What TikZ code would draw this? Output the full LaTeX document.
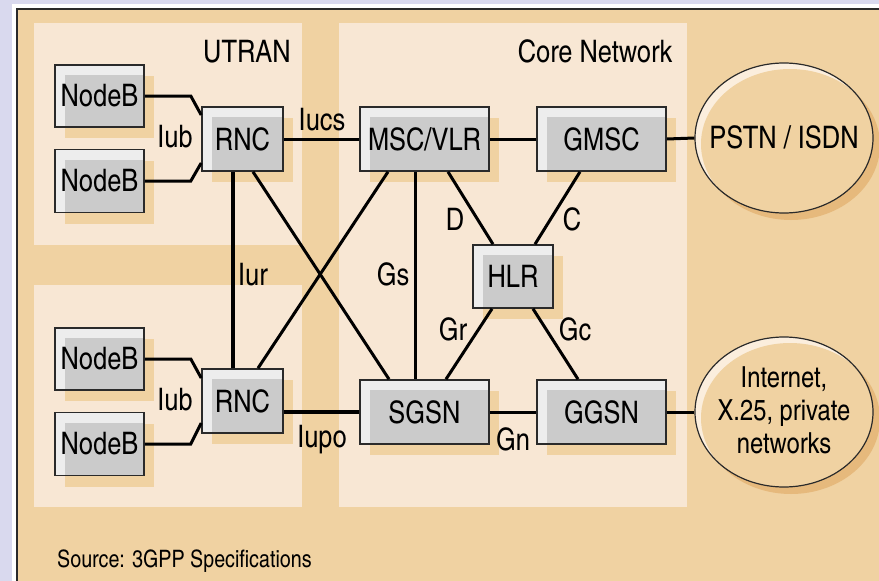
\documentclass[tikz,border=0pt]{standalone}
\usepackage{fontspec}
\setmainfont{texgyreheroscn-regular.otf}
\usetikzlibrary{shadows,shapes.geometric}
\definecolor{lav}{HTML}{D9D9EE}
\definecolor{peach}{HTML}{F0D2A2}
\definecolor{lightp}{HTML}{F8E7D4}
\definecolor{gin}{HTML}{CBCBCB}
\definecolor{glt}{HTML}{EDEDED}
\definecolor{eshad}{HTML}{E6B97C}
\definecolor{ehigh}{HTML}{FBEEDD}
\definecolor{bord}{HTML}{2A2A2A}
\begin{document}
\begin{tikzpicture}[x=1pt,y=-1pt,
 netbox/.style={draw=bord, line width=1.6pt, fill=glt, inner sep=0pt,
   minimum height=63pt, font=\fontsize{31}{36}\selectfont,
   drop shadow={shadow xshift=10pt, shadow yshift=-11pt, fill=peach, opacity=1},
   path picture={\fill[gin] ([xshift=10pt,yshift=-10pt]path picture bounding box.north west) rectangle (path picture bounding box.south east);}},
 cloudshape/.style={ellipse, draw=bord, line width=1.2pt, fill=peach,
   minimum width=178pt, minimum height=150pt, inner sep=0pt,
   drop shadow={shadow xshift=7pt, shadow yshift=-7pt, fill=eshad, opacity=1},
   path picture={\fill[ehigh] (path picture bounding box.north west) rectangle (path picture bounding box.south east);
     \fill[peach] ([xshift=6pt,yshift=-6pt]path picture bounding box.center) ellipse [x radius=89pt, y radius=75pt];}},
 link/.style={line width=3pt, draw=black},
 thicklink/.style={line width=4.5pt, draw=black},
 lbl/.style={anchor=base, font=\fontsize{31}{36}\selectfont, inner sep=0pt},
 etext/.style={font=\fontsize{31}{34}\selectfont, align=center, inner sep=0pt},
]
\useasboundingbox (0,0) rectangle (879,581);
% background
\fill[lav] (0,0) rectangle (879,581);
\fill[white] (12,4) rectangle (879,581);
\fill[peach] (16,8) rectangle (879,581);
\draw[bord, line width=2pt] (17,581) -- (17,9) -- (879,9);
\fill[lightp] (34,23) rectangle (302,245);
\fill[lightp] (34,285) rectangle (302,507);
\fill[lightp] (339,23) rectangle (687,507);
% titles
\node[lbl] (utran) at (247,62) {UTRAN};
\node[lbl] (core) at (595,62) {Core Network};
% boxes
\node[netbox, minimum width=89pt, minimum height=62pt] (nb1) at (99.5,96) {NodeB};
\node[netbox, minimum width=89pt, minimum height=63pt] (nb2) at (99.5,181) {NodeB};
\node[netbox, minimum width=81pt, minimum height=64pt] (rnc1) at (242.5,139) {RNC};
\node[netbox, minimum width=89pt, minimum height=62pt] (nb3) at (99.5,359) {NodeB};
\node[netbox, minimum width=89pt, minimum height=63pt] (nb4) at (99.5,444) {NodeB};
\node[netbox, minimum width=81pt, minimum height=64pt] (rnc2) at (242.5,401) {RNC};
\node[netbox, minimum width=129pt, minimum height=64pt] (msc) at (424.5,139) {MSC/VLR};
\node[netbox, minimum width=129pt, minimum height=64pt] (gmsc) at (601.5,139) {GMSC};
\node[netbox, minimum width=80pt, minimum height=63pt] (hlr) at (513,276.5) {HLR};
\node[netbox, minimum width=129pt, minimum height=64pt] (sgsn) at (424.5,412) {SGSN};
\node[netbox, minimum width=129pt, minimum height=64pt] (ggsn) at (601.5,412) {GGSN};
\node[cloudshape] (pstn) at (784,138) {};
\node[cloudshape] (inet) at (784,412) {};
\node[etext] (pstnt) at (784,137) {PSTN / ISDN};
\node[etext, font=\fontsize{29}{33}\selectfont] (inett) at (784,410) {Internet,\\X.25, private\\networks};
% links
\draw[link] (nb1.east) -- ++(46,0) -- ([yshift=24pt]rnc1.west);
\draw[link] (nb2.east) -- ++(46,0) -- ([yshift=-24pt]rnc1.west);
\draw[link] (nb3.east) -- ++(46,0) -- ([yshift=23pt]rnc2.west);
\draw[link] (nb4.east) -- ++(46,0) -- ([yshift=-22pt]rnc2.west);
\draw[link] (rnc1.east) -- (msc.west);
\draw[link] (msc.east) -- (gmsc.west);
\draw[link] (gmsc.east) -- (pstn.west);
\draw[link] (sgsn.east) -- (ggsn.west);
\draw[link] (ggsn.east) -- (inet.west);
\draw[thicklink] (sgsn.west) -- (sgsn.west -| rnc2.east);
\draw[thicklink] ([xshift=-9.5pt]rnc1.south) -- ([xshift=-9.5pt]rnc2.north);
\draw[link] ([xshift=10.5pt]rnc1.south) -- ([xshift=-35.5pt]sgsn.north);
\draw[link] ([xshift=15.5pt]rnc2.north) -- ([xshift=-36.5pt]msc.south);
\draw[link] ([xshift=-9.5pt]msc.south) -- ([xshift=-9.5pt]sgsn.north);
\draw[link] ([xshift=23.5pt]msc.south) -- ([xshift=-20pt]hlr.north);
\draw[link] ([xshift=-21.5pt]gmsc.south) -- ([xshift=22pt]hlr.north);
\draw[link] ([xshift=-21pt]hlr.south) -- ([xshift=21.5pt]sgsn.north);
\draw[link] ([xshift=20pt]hlr.south) -- ([xshift=-23.5pt]ggsn.north);
% labels
\node[lbl] (liub1) at (175,147) {Iub};
\node[lbl] (liub2) at (175,410) {Iub};
\node[lbl] (liucs) at (322,130) {Iucs};
\node[lbl] (liupo) at (322,447) {Iupo};
\node[lbl] (liur) at (253,285) {Iur};
\node[lbl] (lgs) at (393,285) {Gs};
\node[lbl] (ld) at (455,230) {D};
\node[lbl] (lc) at (572,230) {C};
\node[lbl] (lgr) at (453,340) {Gr};
\node[lbl] (lgc) at (575,340) {Gc};
\node[lbl] (lgn) at (513,450) {Gn};
\node[anchor=base west, inner sep=0pt, font=\fontsize{24}{28}\selectfont] (src) at (57,567) {Source: 3GPP Specifications};
\end{tikzpicture}
\end{document}
